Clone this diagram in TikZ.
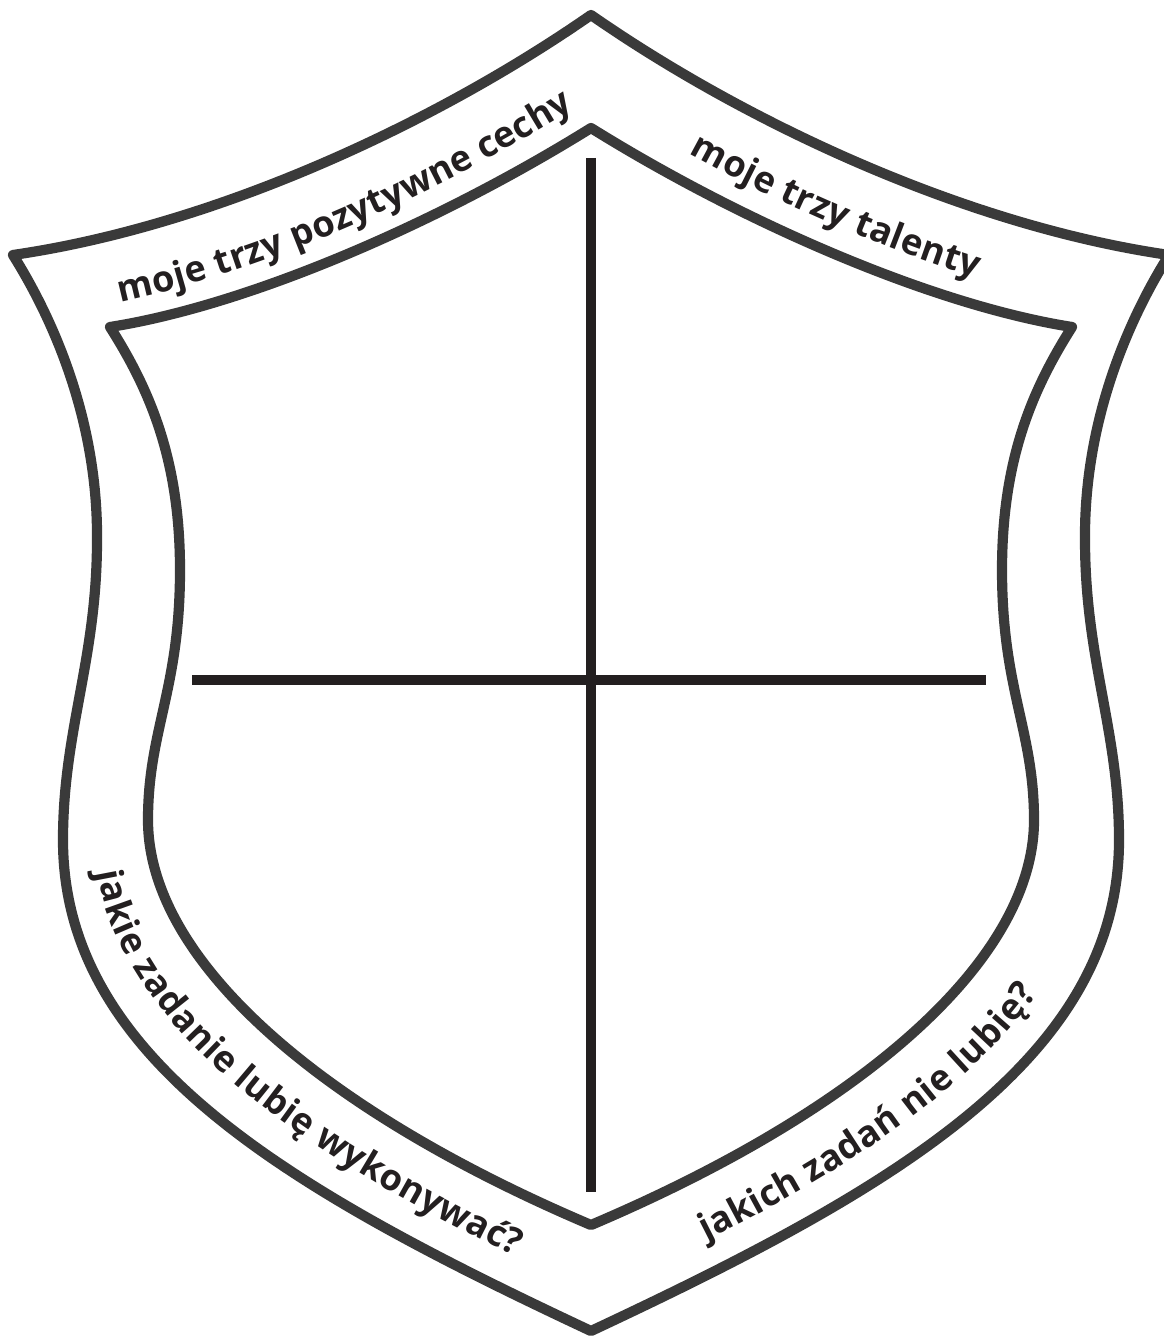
\documentclass[tikz,border=0pt]{standalone}
\usepackage{fontspec}
\usepackage{tikz}
\usetikzlibrary{decorations.text}
\newfontfamily\mottofont{Open Sans}
\definecolor{rimgray}{HTML}{3A3A3A}
\definecolor{ink}{HTML}{231F20}
\newcommand\mottostyle{\mottofont\bfseries\fontsize{10.3}{12}\selectfont}

\begin{document}
\begin{tikzpicture}[
  x=0.01cm, y=-0.01cm,
  rim/.style={draw=rimgray, line width=2.9pt, line join=round},
  bar/.style={draw=ink, line width=2.6pt},
  motto/.style={decorate, decoration={text along path, text color=ink, raise=-0.16cm}}
]
  \useasboundingbox (0,0) rectangle (1163,1340);

  % Outer rim of the shield.
  \draw[rim] (591,15) .. controls (742,120) and (962,225) .. (1169,255)
    .. controls (1122,330) and (1084,430) .. (1085,540)
    .. controls (1085,660) and (1119,730) .. (1119,840)
    .. controls (1119,1060) and (892,1190) .. (591,1331)
    .. controls (290,1190) and (63,1060) .. (63,840)
    .. controls (63,730) and (97,660) .. (97,540)
    .. controls (98,430) and (60,330) .. (13,255)
    .. controls (220,225) and (440,120) .. (591,15) -- cycle;

  % Inner rim of the shield.
  \draw[rim] (591,128) .. controls (742,222) and (932,305) .. (1072,327)
    .. controls (1032,390) and (1002,460) .. (1002,570)
    .. controls (1002,690) and (1034,730) .. (1034,820)
    .. controls (1034,960) and (862,1110) .. (591,1225)
    .. controls (320,1110) and (148,960) .. (148,820)
    .. controls (148,730) and (180,690) .. (180,570)
    .. controls (180,460) and (150,390) .. (110,327)
    .. controls (250,305) and (440,222) .. (591,128) -- cycle;

  % The cross splitting the field into four parts.
  \coordinate (crossN) at (591,158);
  \coordinate (crossS) at (591,1192);
  \coordinate (crossW) at (192,680);
  \coordinate (crossE) at (986,680);
  \draw[bar] (crossN) -- (crossS);
  \draw[bar] (crossW) -- (crossE);

  % Labels running along the band.
  \path[motto, decoration={text={|\mottostyle|moje trzy pozytywne cechy},
      text align={left indent=0.55cm}, raise=-0.22cm}]
    (61.5,291) .. controls (235,265) and (440,171) .. (591,71.5);
  \path[motto, decoration={text={|\mottostyle|moje trzy talenty},
      text align={left indent=1.25cm}, raise=-0.2cm}]
    (591,71.5) .. controls (742,171) and (947,265) .. (1120.5,291);
  \path[motto, decoration={text={|\mottostyle|jakie zadanie lubię wykonywać?},
      text align={left indent=0.4cm}, raise=-0.12cm}]
    (105.5,830) .. controls (105.5,1010) and (305,1150) .. (591,1278);
  \path[motto, decoration={text={|\mottostyle|jakich zadań nie lubię?},
      text align={left indent=1.2cm}, raise=-0.16cm}]
    (591,1278) .. controls (877,1150) and (1076.5,1010) .. (1076.5,830);
\end{tikzpicture}
\end{document}
